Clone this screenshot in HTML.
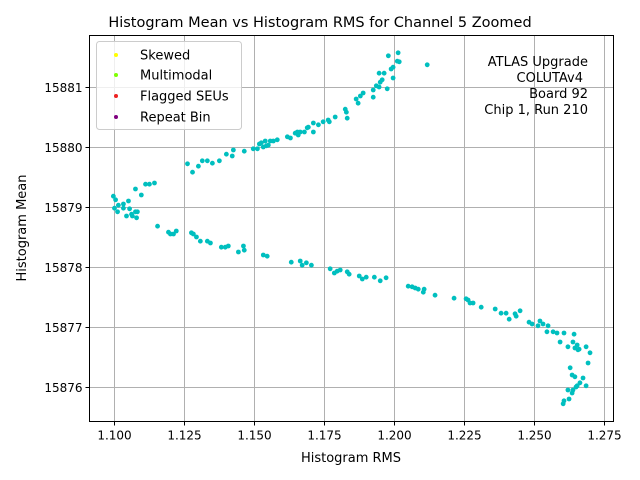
<!DOCTYPE html>
<html><head><meta charset="utf-8"><style>
body{margin:0;background:#fff;}
svg{display:block;font-family:"DejaVu Sans","Liberation Sans",sans-serif;}
</style></head><body>
<svg id="chart" width="640" height="480" viewBox="0 0 640 480">
<rect width="640" height="480" fill="#fff"/>
<text x="320" y="27" text-anchor="middle" font-size="14.5">Histogram Mean vs Histogram RMS for Channel 5 Zoomed</text>
<g id="grid"></g>
<g id="points"></g>
<rect x="89.5" y="35.5" width="524" height="386" fill="none" stroke="#000" stroke-width="1"/>
<g id="ticks"></g>
<text x="351" y="462" text-anchor="middle" font-size="13">Histogram RMS</text>
<text transform="translate(26,228) rotate(-90)" text-anchor="middle" font-size="13">Histogram Mean</text>
<g>
<rect x="96.5" y="41.5" width="145" height="88" rx="3" fill="#fff" fill-opacity="0.8" stroke="#ccc"/>
<g><circle cx="116" cy="55" r="2" fill="#ffff00"/><text x="140" y="59.5" font-size="13">Skewed</text></g>
<g><circle cx="116" cy="75" r="2" fill="#7fff00"/><text x="140" y="79.5" font-size="13">Multimodal</text></g>
<g><circle cx="116" cy="96" r="2" fill="#ee2222"/><text x="140" y="100.5" font-size="13">Flagged SEUs</text></g>
<g><circle cx="116" cy="117" r="2" fill="#800080"/><text x="140" y="121.5" font-size="13">Repeat Bin</text></g>
</g>
<g font-size="13" text-anchor="end">
<text x="588" y="66">ATLAS Upgrade</text>
<text x="583" y="82">COLUTAv4</text>
<text x="588" y="98">Board 92</text>
<text x="588" y="114">Chip 1, Run 210</text>
</g>
</svg>
<script>
const xTicks = [1.100, 1.125, 1.150, 1.175, 1.200, 1.225, 1.250, 1.275];
const xTickLabels = ["1.100","1.125","1.150","1.175","1.200","1.225","1.250","1.275"];
const yTicks = [15876, 15877, 15878, 15879, 15880, 15881];
const yTickLabels = ["15876","15877","15878","15879","15880","15881"];
const rmsValues = [
1.0996,1.1004,1.1000,1.1011,1.1014,1.1032,1.1032,1.1043,1.1050,1.1054,1.1061,1.1064,1.1075,1.1082,1.1079,1.1075,1.1096,1.1111,1.1125,1.1143,
1.1261,1.1300,1.1279,1.1314,1.1332,1.1350,1.1375,1.1400,1.1421,1.1425,1.1464,1.1496,1.1511,1.1518,1.1525,1.1532,1.1543,1.1550,1.1539,1.1557,
1.1568,1.1582,1.1618,1.1629,1.1646,1.1654,1.1657,1.1664,1.1679,1.1689,1.1693,1.1711,1.1711,1.1729,1.1746,1.1764,1.1768,1.1789,1.1825,1.1829,
1.1832,1.1864,1.1871,1.1879,1.1889,1.1925,1.1925,1.1936,1.1946,1.1950,1.1957,1.1964,1.1946,1.1975,1.1989,1.1996,1.1996,1.1979,1.2011,1.2018,
1.2014,1.2118,
1.1154,1.1193,1.1200,1.1211,1.1221,1.1275,1.1282,1.1293,1.1307,1.1332,1.1343,1.1382,1.1396,1.1407,1.1443,1.1461,1.1464,1.1532,1.1546,1.1632,
1.1664,1.1671,1.1686,1.1704,1.1771,1.1786,1.1796,1.1807,1.1832,1.1839,1.1875,1.1886,1.1900,1.1929,1.1950,1.1971,1.2050,1.2064,1.2075,1.2086,
1.2104,1.2107,1.2146,1.2214,1.2257,1.2264,1.2271,1.2282,1.2311,1.2361,1.2382,1.2400,1.2411,1.2432,1.2436,1.2450,1.2482,1.2493,1.2521,1.2514,
1.2532,1.2550,1.2546,1.2568,1.2582,1.2607,1.2643,1.2593,1.2621,1.2639,1.2646,1.2654,1.2661,1.2657,1.2686,1.2700,1.2693,1.2629,1.2636,1.2646,
1.2675,1.2664,1.2654,1.2650,1.2686,1.2621,1.2639,1.2636,1.2625,1.2607,1.2604
];
const meanValues = [
15879.18,15879.12,15878.98,15878.92,15879.03,15879.05,15878.98,15878.85,15879.10,15878.97,15878.88,15878.85,15878.92,15878.92,15878.82,15879.30,15879.20,15879.38,15879.38,15879.40,
15879.72,15879.68,15879.58,15879.77,15879.77,15879.73,15879.77,15879.88,15879.85,15879.95,15879.93,15879.97,15879.97,15880.05,15880.07,15880.00,15880.02,15880.03,15880.10,15880.10,
15880.10,15880.12,15880.17,15880.15,15880.23,15880.25,15880.20,15880.25,15880.25,15880.32,15880.33,15880.25,15880.40,15880.37,15880.42,15880.45,15880.42,15880.50,15880.63,15880.58,
15880.48,15880.80,15880.73,15880.85,15880.90,15880.83,15880.95,15881.02,15881.00,15881.08,15881.12,15881.23,15881.23,15880.97,15881.30,15881.33,15881.15,15881.52,15881.43,15881.42,
15881.57,15881.37,
15878.68,15878.58,15878.55,15878.55,15878.60,15878.57,15878.55,15878.50,15878.43,15878.43,15878.40,15878.33,15878.33,15878.35,15878.25,15878.35,15878.28,15878.20,15878.18,15878.08,
15878.10,15878.03,15878.07,15878.03,15877.97,15877.90,15877.93,15877.95,15877.92,15877.88,15877.85,15877.80,15877.83,15877.83,15877.77,15877.82,15877.68,15877.67,15877.65,15877.63,
15877.58,15877.63,15877.53,15877.48,15877.47,15877.45,15877.40,15877.40,15877.33,15877.30,15877.23,15877.23,15877.13,15877.22,15877.18,15877.27,15877.08,15877.05,15877.10,15877.02,
15877.05,15877.02,15876.92,15876.92,15876.90,15876.90,15876.88,15876.75,15876.67,15876.75,15876.65,15876.70,15876.63,15876.62,15876.67,15876.57,15876.40,15876.32,15876.20,15876.17,
15876.15,15876.07,15876.02,15876.00,15876.02,15875.95,15875.95,15875.90,15875.80,15875.77,15875.72
];
const NS = "http://www.w3.org/2000/svg";
const X0 = 89.5, X1 = 613.5, Y0 = 35.5, Y1 = 421.5;
const xMin = 1.1 - 25/2800, xMax = 1.275 + 9.5/2800;
const yMax = 15881 + 51.5/60, yMin = 15876 - 34.5/60;
function xScale(v){ return X0 + (v - xMin) / (xMax - xMin) * (X1 - X0); }
function yScale(v){ return Y1 - (v - yMin) / (yMax - yMin) * (Y1 - Y0); }
function mk(tag, attrs){ const e = document.createElementNS(NS, tag); for (const k in attrs) e.setAttribute(k, attrs[k]); return e; }
const grid = document.getElementById('grid');
const ticks = document.getElementById('ticks');
xTicks.forEach((t, i) => {
  const x = Math.round(xScale(t)) + 0.5;
  const gl = mk('line', {x1:x, x2:x, y1:Y0, y2:Y1, stroke:'#b0b0b0', 'stroke-width':1});
  
  
  grid.appendChild(gl);
  const tk = mk('line', {x1:x, x2:x, y1:Y1, y2:Y1+4, stroke:'#000'});
  
  
  ticks.appendChild(tk);
  const lb = mk('text', {x:x, y:Y1+18, 'text-anchor':'middle', 'font-size':'12'});
  lb.textContent = xTickLabels[i];
  
  
  ticks.appendChild(lb);
});
yTicks.forEach((t, i) => {
  const y = Math.round(yScale(t)) + 0.5;
  const gl = mk('line', {x1:X0, x2:X1, y1:y, y2:y, stroke:'#b0b0b0', 'stroke-width':1});
  
  
  grid.appendChild(gl);
  const tk = mk('line', {x1:X0-4, x2:X0, y1:y, y2:y, stroke:'#000'});
  
  
  ticks.appendChild(tk);
  const lb = mk('text', {x:X0-7, y:y+4.5, 'text-anchor':'end', 'font-size':'12'});
  lb.textContent = yTickLabels[i];
  
  
  ticks.appendChild(lb);
});
const pts = document.getElementById('points');
rmsValues.forEach((v, i) => {
  const c = mk('circle', {cx:xScale(v), cy:yScale(meanValues[i]), r:2.4, fill:'#00bfbf'});
  
  
  pts.appendChild(c);
});
</script>
</body></html>
